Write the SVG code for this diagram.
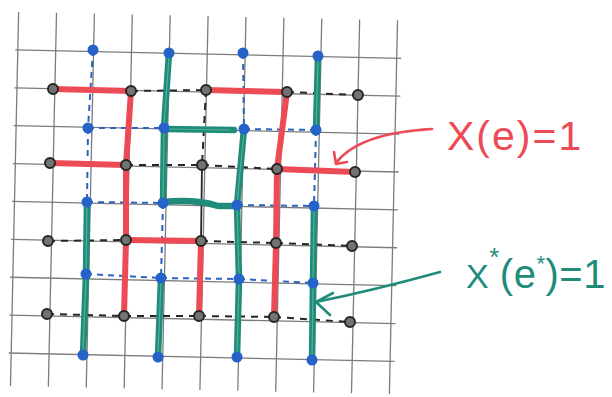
<svg xmlns="http://www.w3.org/2000/svg" width="612" height="397" viewBox="0 0 612 397">
<style>
.grid line{stroke:#7c7c7c;stroke-width:1.3}
.pd{stroke:#262626;stroke-width:2;stroke-dasharray:7 6;fill:none}
.ps{stroke:#262626;stroke-width:1.8;fill:none}
.dd{stroke:#2a62c4;stroke-width:2;stroke-dasharray:6 5;fill:none}
.red{stroke:#ec4a55;stroke-width:6;stroke-linecap:round;fill:none}
.grn{stroke:#1f8c7a;stroke-width:6.5;stroke-linecap:round;fill:none}
.gin{stroke:#63b8a6;stroke-width:1.2;stroke-linecap:round;fill:none;opacity:.8}
.ar{stroke:#ec4a55;stroke-width:2.6;fill:none;stroke-linecap:round;stroke-linejoin:round}
.ag{stroke:#1f8c7a;stroke-width:2.6;fill:none;stroke-linecap:round;stroke-linejoin:round}
.bk circle{fill:#737373;stroke:#262626;stroke-width:2}
.bl circle{fill:#2563c9}
.tr{font-family:"Liberation Sans",Arial,sans-serif;fill:#ec4a55}
.tg{font-family:"Liberation Sans",Arial,sans-serif;fill:#1f8c7a}
</style>
<rect width="612" height="397" fill="#ffffff"/>
<g class="grid" transform="rotate(1.25 202 203)">
<line x1="14.5" y1="16" x2="14.5" y2="390"/>
<line x1="52.4" y1="16" x2="52.4" y2="390"/>
<line x1="90.3" y1="16" x2="90.3" y2="390"/>
<line x1="128.2" y1="16" x2="128.2" y2="390"/>
<line x1="166.1" y1="16" x2="166.1" y2="390"/>
<line x1="204" y1="16" x2="204" y2="390"/>
<line x1="241.9" y1="16" x2="241.9" y2="390"/>
<line x1="279.8" y1="16" x2="279.8" y2="390"/>
<line x1="317.7" y1="16" x2="317.7" y2="390"/>
<line x1="355.6" y1="16" x2="355.6" y2="390"/>
<line x1="393.5" y1="16" x2="393.5" y2="390"/>
<line x1="12" y1="54" x2="398" y2="54"/>
<line x1="12" y1="91.9" x2="398" y2="91.9"/>
<line x1="12" y1="129.8" x2="398" y2="129.8"/>
<line x1="12" y1="167.7" x2="398" y2="167.7"/>
<line x1="12" y1="205.6" x2="398" y2="205.6"/>
<line x1="12" y1="243.5" x2="398" y2="243.5"/>
<line x1="12" y1="281.4" x2="398" y2="281.4"/>
<line x1="12" y1="319.3" x2="398" y2="319.3"/>
<line x1="12" y1="357.2" x2="398" y2="357.2"/>
</g>
<g id="connectors">
<g id="primal-dashed">
<line class="pd" x1="131" y1="91" x2="206" y2="90"/>
<line class="pd" x1="287" y1="92" x2="358" y2="95"/>
<line class="pd" x1="126" y1="165" x2="202" y2="165"/>
<line class="pd" x1="202" y1="165" x2="277" y2="169"/>
<line class="pd" x1="48" y1="241" x2="126" y2="240"/>
<line class="pd" x1="201" y1="241" x2="276" y2="243"/>
<line class="pd" x1="276" y1="243" x2="352" y2="246"/>
<line class="pd" x1="47" y1="314" x2="124" y2="316"/>
<line class="pd" x1="124" y1="316" x2="199" y2="316"/>
<line class="pd" x1="199" y1="316" x2="274" y2="317"/>
<line class="pd" x1="274" y1="317" x2="350" y2="322"/>
<line class="pd" x1="206" y1="90" x2="202" y2="165"/>
<line class="ps" x1="202" y1="165" x2="201" y2="241"/>
</g>
<g id="dual-dashed">
<line class="dd" x1="93" y1="50" x2="88" y2="128"/>
<line class="dd" x1="88" y1="128" x2="87" y2="202"/>
<line class="dd" x1="163" y1="203" x2="161" y2="278"/>
<line class="dd" x1="243" y1="53" x2="244" y2="129"/>
<line class="dd" x1="316" y1="130" x2="314" y2="206"/>
<line class="dd" x1="88" y1="128" x2="164" y2="128"/>
<line class="dd" x1="244" y1="129" x2="316" y2="130"/>
<line class="dd" x1="87" y1="202" x2="163" y2="203"/>
<line class="dd" x1="237" y1="205" x2="314" y2="206"/>
<line class="dd" x1="86" y1="274" x2="161" y2="278"/>
<line class="dd" x1="161" y1="278" x2="239" y2="279"/>
<line class="dd" x1="239" y1="279" x2="313" y2="283"/>
</g>
<g id="red-edges">
<line class="red" x1="53" y1="89" x2="131" y2="91"/>
<line class="red" x1="131" y1="91" x2="126" y2="165"/>
<line class="red" x1="206" y1="90" x2="287" y2="92"/>
<line class="red" x1="287" y1="92" x2="277" y2="169"/>
<line class="red" x1="50" y1="163" x2="126" y2="165"/>
<line class="red" x1="277" y1="169" x2="355" y2="172"/>
<line class="red" x1="126" y1="165" x2="126" y2="240"/>
<line class="red" x1="126" y1="240" x2="201" y2="241"/>
<line class="red" x1="126" y1="240" x2="124" y2="316"/>
<line class="red" x1="201" y1="241" x2="199" y2="316"/>
<line class="red" x1="277" y1="169" x2="276" y2="243"/>
<line class="red" x1="276" y1="243" x2="274" y2="317"/>
</g>
<g id="green-edges">
<line class="grn" x1="169" y1="53" x2="164" y2="128"/>
<line class="grn" x1="164" y1="129" x2="234" y2="130"/>
<line class="grn" x1="164" y1="128" x2="163" y2="203"/>
<line class="grn" x1="244" y1="129" x2="237" y2="205"/>
<line class="grn" x1="318" y1="56" x2="316" y2="130"/>
<path class="grn" d="M163,202 Q196,199 218,206 L237,206"/>
<line class="grn" x1="87" y1="202" x2="86" y2="274"/>
<line class="grn" x1="86" y1="274" x2="83" y2="355"/>
<line class="grn" x1="161" y1="278" x2="158" y2="357"/>
<line class="grn" x1="237" y1="205" x2="239" y2="279"/>
<line class="grn" x1="239" y1="279" x2="237" y2="357"/>
<line class="grn" x1="314" y1="206" x2="313" y2="283"/>
<line class="grn" x1="313" y1="283" x2="312" y2="360"/>
<line class="gin" x1="169" y1="56" x2="164" y2="125"/>
<line class="gin" x1="168" y1="129" x2="230" y2="130"/>
<line class="gin" x1="164" y1="131" x2="163" y2="200"/>
<line class="gin" x1="244" y1="132" x2="237" y2="202"/>
<line class="gin" x1="318" y1="59" x2="316" y2="127"/>
<line class="gin" x1="87" y1="205" x2="86" y2="271"/>
<line class="gin" x1="86" y1="277" x2="83" y2="352"/>
<line class="gin" x1="161" y1="281" x2="158" y2="354"/>
<line class="gin" x1="237" y1="208" x2="239" y2="276"/>
<line class="gin" x1="239" y1="282" x2="237" y2="354"/>
<line class="gin" x1="314" y1="209" x2="313" y2="280"/>
<line class="gin" x1="313" y1="286" x2="312" y2="357"/>
</g>
<g id="arrows">
<path class="ar" d="M432,129 C395,131 355,138 336,163"/>
<polyline class="ar" points="334,152 336,164 347,162"/>
<path class="ag" d="M440,272 Q375,290 316,302"/>
<polyline class="ag" points="333,293 316,302 330,315"/>
</g>
</g>
<g id="nodes-primal" class="bk">
<g id="v11"><circle cx="53" cy="89" r="5"/></g>
<g id="v12"><circle cx="131" cy="91" r="5"/></g>
<g id="v13"><circle cx="206" cy="90" r="5"/></g>
<g id="v14"><circle cx="287" cy="92" r="5"/></g>
<g id="v15"><circle cx="358" cy="95" r="5"/></g>
<g id="v21"><circle cx="50" cy="163" r="5"/></g>
<g id="v22"><circle cx="126" cy="165" r="5"/></g>
<g id="v23"><circle cx="202" cy="165" r="5"/></g>
<g id="v24"><circle cx="277" cy="169" r="5"/></g>
<g id="v25"><circle cx="355" cy="172" r="5"/></g>
<g id="v31"><circle cx="48" cy="241" r="5"/></g>
<g id="v32"><circle cx="126" cy="240" r="5"/></g>
<g id="v33"><circle cx="201" cy="241" r="5"/></g>
<g id="v34"><circle cx="276" cy="243" r="5"/></g>
<g id="v35"><circle cx="352" cy="246" r="5"/></g>
<g id="v41"><circle cx="47" cy="314" r="5"/></g>
<g id="v42"><circle cx="124" cy="316" r="5"/></g>
<g id="v43"><circle cx="199" cy="316" r="5"/></g>
<g id="v44"><circle cx="274" cy="317" r="5"/></g>
<g id="v45"><circle cx="350" cy="322" r="5"/></g>
</g>
<g id="nodes-dual" class="bl">
<g id="d11"><circle cx="93" cy="50" r="5.5"/></g>
<g id="d12"><circle cx="169" cy="53" r="5.5"/></g>
<g id="d13"><circle cx="243" cy="53" r="5.5"/></g>
<g id="d14"><circle cx="318" cy="56" r="5.5"/></g>
<g id="d21"><circle cx="88" cy="128" r="5.5"/></g>
<g id="d22"><circle cx="164" cy="128" r="5.5"/></g>
<g id="d23"><circle cx="244" cy="129" r="5.5"/></g>
<g id="d24"><circle cx="316" cy="130" r="5.5"/></g>
<g id="d31"><circle cx="87" cy="202" r="5.5"/></g>
<g id="d32"><circle cx="163" cy="203" r="5.5"/></g>
<g id="d33"><circle cx="237" cy="205" r="5.5"/></g>
<g id="d34"><circle cx="314" cy="206" r="5.5"/></g>
<g id="d41"><circle cx="86" cy="274" r="5.5"/></g>
<g id="d42"><circle cx="161" cy="278" r="5.5"/></g>
<g id="d43"><circle cx="239" cy="279" r="5.5"/></g>
<g id="d44"><circle cx="313" cy="283" r="5.5"/></g>
<g id="d51"><circle cx="83" cy="355" r="5.5"/></g>
<g id="d52"><circle cx="158" cy="357" r="5.5"/></g>
<g id="d53"><circle cx="237" cy="357" r="5.5"/></g>
<g id="d54"><circle cx="312" cy="360" r="5.5"/></g>
</g>
<g id="label-primal">
<text class="tr" x="447" y="150" font-size="41" letter-spacing="2">X(e)=1</text>
</g>
<g id="label-dual">
<text class="tg" x="466" y="288" font-size="34" letter-spacing="0.5">X<tspan dy="-22" font-size="26">*</tspan><tspan dy="22" font-size="40">(e</tspan><tspan dy="-17" font-size="22">*</tspan><tspan dy="17" font-size="40">)=1</tspan></text>
</g>
</svg>
